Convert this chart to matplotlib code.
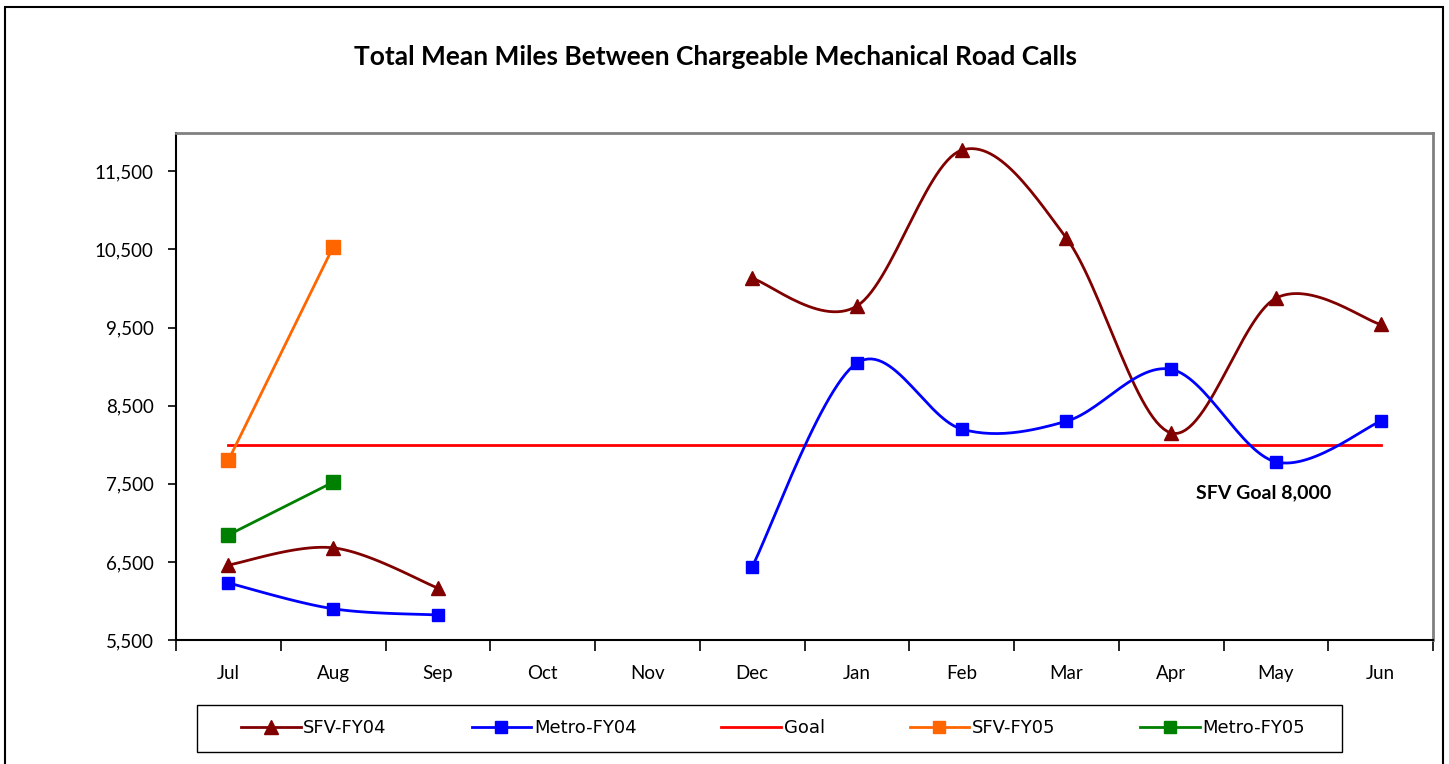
import numpy as np
import matplotlib
matplotlib.use("Agg")
import matplotlib.pyplot as plt
from matplotlib.lines import Line2D
from matplotlib.patches import Rectangle

months = ["Jul", "Aug", "Sep", "Oct", "Nov", "Dec", "Jan", "Feb", "Mar", "Apr", "May", "Jun"]
sfv_fy04 = [6460, 6680, 6165, None, None, 10130, 9775, 11770, 10645, 8150, 9875, 9540]
metro_fy04 = [6230, 5900, 5820, None, None, 6435, 9045, 8200, 8300, 8965, 7780, 8300]
sfv_fy05 = [7800, 10530]
metro_fy05 = [6845, 7520]
goal = 8000
y_ticks = [5500, 6500, 7500, 8500, 9500, 10500, 11500]

W, H = 1449, 764
FONT = "Lato"


def smooth(xs, ys, n=30):
    # Excel-style Bezier smoothing through the points
    pts = np.column_stack([xs, ys]).astype(float)
    if len(pts) < 3:
        return pts[:, 0], pts[:, 1]
    out = []
    for i in range(len(pts) - 1):
        p0 = pts[max(i - 1, 0)]
        p1, p2 = pts[i], pts[i + 1]
        p3 = pts[min(i + 2, len(pts) - 1)]
        c1 = p1 + (p2 - p0) / 6
        c2 = p2 - (p3 - p1) / 6
        t = np.linspace(0, 1, n)[:, None]
        seg = ((1 - t) ** 3) * p1 + 3 * ((1 - t) ** 2) * t * c1 + 3 * (1 - t) * t ** 2 * c2 + t ** 3 * p2
        out.append(seg if i == 0 else seg[1:])
    out = np.vstack(out)
    return out[:, 0], out[:, 1]


def runs(vals):
    # split into contiguous (x, y) runs, skipping missing months
    res, cur = [], []
    for i, v in enumerate(vals):
        if v is None:
            if cur:
                res.append(cur)
            cur = []
        else:
            cur.append((i, v))
    if cur:
        res.append(cur)
    return res


fig = plt.figure(figsize=(W / 100, H / 100), dpi=100)
ax = fig.add_axes([176 / W, 1 - 640 / H, (1433 - 176) / W, (640 - 133) / H])

series = [
    (sfv_fy04, "#800000", "^"),
    (metro_fy04, "#0000ff", "s"),
]
for vals, col, mk in series:
    for r in runs(vals):
        xs = [p[0] for p in r]
        ys = [p[1] for p in r]
        sx, sy = smooth(xs, ys)
        ax.plot(sx, sy, color=col, lw=2, zorder=3)
        ax.plot(xs, ys, ls="none", marker=mk, ms=10 if mk == "^" else 9,
                color=col, zorder=4)

ax.plot([0, 11], [goal, goal], color="#ff0000", lw=2, zorder=2)
ax.plot(range(len(sfv_fy05)), sfv_fy05, color="#ff6600", lw=2, marker="s", ms=10, zorder=4)
ax.plot(range(len(metro_fy05)), metro_fy05, color="#008000", lw=2, marker="s", ms=10, zorder=4)

ax.text(9.88, goal - 610, "SFV Goal 8,000", ha="center", va="center",
        fontsize=14, fontweight="bold", family=FONT)

ax.set_xlim(-0.5, 11.5)
ax.set_ylim(5500, 11990)
ax.set_yticks(y_ticks)
ax.set_yticklabels([f"{v:,}" for v in y_ticks], fontsize=13.5, family=FONT)
ax.set_xticks(range(12))
ax.set_xticklabels(months, fontsize=13.5, family=FONT)
ax.set_xticks(np.arange(-0.5, 12, 1), minor=True)
ax.tick_params(axis="x", which="major", length=0, pad=18)
ax.tick_params(axis="x", which="minor", length=8, width=1.2, direction="out")
ax.tick_params(axis="y", length=6, width=1.2, direction="out", pad=10)
for s in ["left", "bottom"]:
    ax.spines[s].set_color("black")
    ax.spines[s].set_linewidth(1.5)
for s in ["top", "right"]:
    ax.spines[s].set_color("#808080")
    ax.spines[s].set_linewidth(2)

fig.text(716 / W, 1 - 57 / H, "Total Mean Miles Between Chargeable Mechanical Road Calls",
         ha="center", va="center", fontsize=19, fontweight="bold", family=FONT)

handles = [
    Line2D([], [], color="#800000", lw=2, marker="^", ms=10),
    Line2D([], [], color="#0000ff", lw=2, marker="s", ms=9),
    Line2D([], [], color="#ff0000", lw=2),
    Line2D([], [], color="#ff6600", lw=2, marker="s", ms=9),
    Line2D([], [], color="#008000", lw=2, marker="s", ms=9),
]
labels = ["SFV-FY04", "Metro-FY04", "Goal", "SFV-FY05", "Metro-FY05"]
fig.legend(handles, labels, ncol=5, loc="center",
           bbox_to_anchor=(241 / W, 1 - 740 / H, (1305 - 241) / W, 24 / H),
           bbox_transform=fig.transFigure, mode="expand", borderaxespad=0,
           frameon=False, borderpad=0,
           prop={"family": "DejaVu Sans", "size": 13},
           handlelength=3.3, handletextpad=0.15)
fig.add_artist(Rectangle((197 / W, 1 - 752 / H), (1342 - 197) / W, 47 / H,
                         transform=fig.transFigure, fill=False, edgecolor="black", lw=1))

fig.add_artist(Rectangle((5 / W, -0.05), (1443 - 5) / W, 1.05 - 7 / H,
                         transform=fig.transFigure, fill=False, edgecolor="black",
                         lw=1.5, clip_on=False))

fig.savefig("out.png", dpi=100)
